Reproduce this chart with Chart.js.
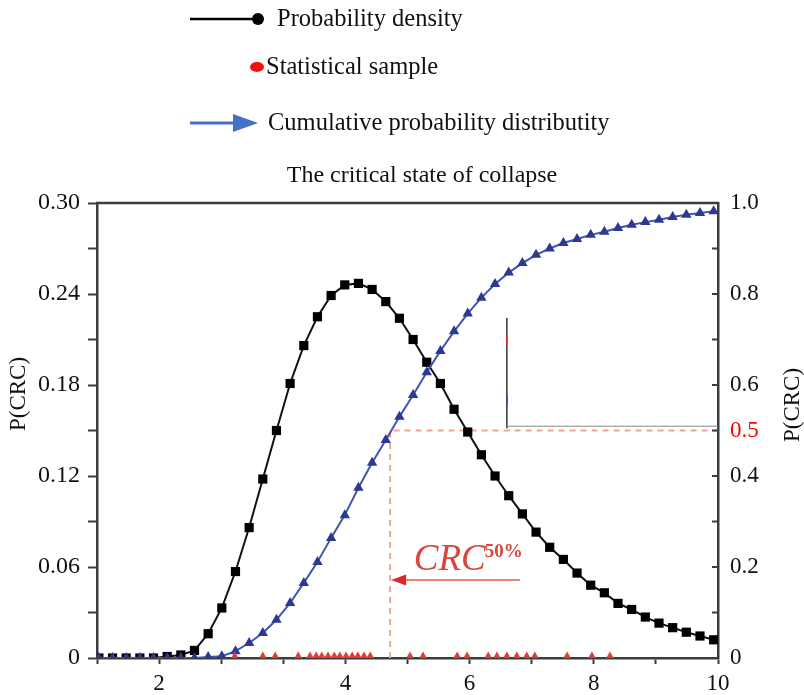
<!DOCTYPE html>
<html>
<head>
<meta charset="utf-8">
<title>The critical state of collapse</title>
<script src="https://cdn.jsdelivr.net/npm/chart.js@4.4.1/dist/chart.umd.min.js"></script>
<style>
  html, body { margin: 0; padding: 0; background: #fff; }
  #wrap { width: 804px; height: 695px; position: relative; }
</style>
</head>
<body>
<div id="wrap"><canvas id="chart"></canvas></div>
<script>
// x positions of the curve points (CRC)
const xGrid = [0.03, 0.25, 0.47, 0.69, 0.91, 1.13, 1.35, 1.57, 1.79, 2.01,
               2.23, 2.45, 2.67, 2.89, 3.11, 3.33, 3.55, 3.77, 3.99, 4.21,
               4.43, 4.65, 4.87, 5.09, 5.31, 5.53, 5.75, 5.97, 6.19, 6.41,
               6.63, 6.85, 7.07, 7.29, 7.51, 7.73, 7.95, 8.17, 8.39, 8.61,
               8.83, 9.05, 9.27, 9.49, 9.71, 9.93];

// probability density, left axis
const densityValues = [0, 0, 0, 0, 0, 0.001, 0.002, 0.005, 0.016, 0.033,
                       0.057, 0.086, 0.118, 0.150, 0.181, 0.206, 0.225, 0.239, 0.246, 0.247,
                       0.243, 0.235, 0.224, 0.210, 0.195, 0.181, 0.164, 0.149, 0.134, 0.120,
                       0.107, 0.095, 0.083, 0.073, 0.065, 0.056, 0.048, 0.043, 0.036, 0.032,
                       0.027, 0.023, 0.020, 0.017, 0.0145, 0.012];

// cumulative probability, right axis
const cumulativeValues = [0, 0, 0, 0, 0, 0, 0, 0, 0.002, 0.004,
                          0.015, 0.033, 0.055, 0.084, 0.121, 0.165, 0.211, 0.264, 0.314, 0.374,
                          0.429, 0.479, 0.530, 0.578, 0.628, 0.675, 0.718, 0.757, 0.792, 0.822,
                          0.847, 0.868, 0.886, 0.900, 0.912, 0.921, 0.930, 0.937, 0.945, 0.952,
                          0.958, 0.963, 0.969, 0.974, 0.978, 0.982];

// statistical samples along the x axis
const sampleX = [2.22, 2.67, 2.87, 3.24, 3.43, 3.53, 3.62, 3.72, 3.82, 3.91,
                 4.01, 4.11, 4.20, 4.30, 4.40, 5.04, 5.25, 5.80, 5.96, 6.30,
                 6.44, 6.60, 6.76, 6.92, 7.05, 7.57, 7.97, 8.26];

// the x labels as printed in the figure
const xLabelTicks = [1, 4, 6, 8, 10];
const xLabelText = ['2', '4', '6', '8', '10'];

const crcX = 4.72;      // CRC 50%
const crcLevel = 0.5;

const SERIF = "'Liberation Serif', 'Times New Roman', serif";
const AXIS = '#3c3c3c';

function vText(ctx, text, x, y) {
    ctx.save();
    ctx.translate(x, y);
    ctx.rotate(-Math.PI / 2);
    ctx.fillText(text, 0, 0);
    ctx.restore();
}

const decor = {
    id: 'decor',
    afterDatasetsDraw(chart) {
        const {ctx, scales: {x, y, y1}} = chart;
        ctx.save();

        // whited-out box left over in the original figure
        const bx0 = x.getPixelForValue(6.05), bx1 = x.getPixelForValue(6.6);
        const by0 = y1.getPixelForValue(0.758), by1 = y1.getPixelForValue(0.505);
        ctx.fillStyle = '#fff';
        ctx.fillRect(bx0, by0, bx1 - bx0, by1 - by0);
        ctx.strokeStyle = '#333';
        ctx.lineWidth = 1.5;
        ctx.beginPath();
        ctx.moveTo(bx1, by0 + 5);
        ctx.lineTo(bx1, by1);
        ctx.stroke();
        ctx.strokeStyle = '#e03030';
        ctx.beginPath(); ctx.moveTo(bx1, by0 + 22); ctx.lineTo(bx1, by0 + 32); ctx.stroke();
        ctx.strokeStyle = '#3040a0';
        ctx.beginPath(); ctx.moveTo(bx1, by0 + 82); ctx.lineTo(bx1, by0 + 92); ctx.stroke();
        ctx.strokeStyle = '#888';
        ctx.lineWidth = 1;
        ctx.beginPath();
        ctx.moveTo(bx1, by1 - 2);
        ctx.lineTo(x.right, by1 - 2);
        ctx.stroke();

        // CRC 50% arrow and label
        const ay = y.getPixelForValue(0.0514);
        const tip = x.getPixelForValue(crcX) + 1;
        ctx.strokeStyle = '#e65a50';
        ctx.lineWidth = 1.5;
        ctx.beginPath();
        ctx.moveTo(tip + 12, ay);
        ctx.lineTo(x.getPixelForValue(6.81), ay);
        ctx.stroke();
        ctx.fillStyle = '#e02525';
        ctx.beginPath();
        ctx.moveTo(tip, ay);
        ctx.lineTo(tip + 15, ay - 5.5);
        ctx.lineTo(tip + 15, ay + 5.5);
        ctx.closePath();
        ctx.fill();

        const tx = x.getPixelForValue(5.1);
        const ty = y.getPixelForValue(0.058);
        ctx.fillStyle = '#d8463e';
        ctx.textBaseline = 'alphabetic';
        ctx.textAlign = 'left';
        ctx.font = 'italic 37px ' + SERIF;
        ctx.fillText('CRC', tx, ty);
        const w = ctx.measureText('CRC').width;
        ctx.font = 'bold 19px ' + SERIF;
        ctx.fillText('50%', tx + w - 1, ty - 13);
        ctx.restore();
    },
    afterDraw(chart) {
        const {ctx, chartArea: a, scales: {y1}} = chart;
        ctx.save();

        // top frame line
        ctx.strokeStyle = AXIS;
        ctx.lineWidth = 2.5;
        ctx.beginPath();
        ctx.moveTo(a.left - 1, a.top);
        ctx.lineTo(a.right + 1, a.top);
        ctx.stroke();

        // right axis ticks point inwards
        ctx.lineWidth = 2;
        y1.ticks.forEach(t => {
            const py = y1.getPixelForValue(t.value);
            ctx.beginPath();
            ctx.moveTo(a.right, py);
            ctx.lineTo(a.right - 6, py);
            ctx.stroke();
        });

        // axis titles, both reading upwards
        ctx.fillStyle = '#111';
        ctx.font = '23px ' + SERIF;
        ctx.textAlign = 'center';
        ctx.textBaseline = 'middle';
        vText(ctx, 'P(CRC)', 19, 394);
        vText(ctx, 'P(CRC)', 793, 405);

        // chart title
        ctx.font = '24px ' + SERIF;
        ctx.fillText('The critical state of collapse', 422, 176);

        // legend
        const ds = chart.data.datasets;
        ctx.textAlign = 'left';
        ctx.font = '24.5px ' + SERIF;

        ctx.strokeStyle = '#000';
        ctx.lineWidth = 2.5;
        ctx.beginPath(); ctx.moveTo(190, 19); ctx.lineTo(254, 19); ctx.stroke();
        ctx.fillStyle = '#000';
        ctx.beginPath(); ctx.arc(258, 19, 6, 0, Math.PI * 2); ctx.fill();
        ctx.fillStyle = '#111';
        ctx.fillText(ds[0].label, 277, 20);

        ctx.fillStyle = '#f01010';
        ctx.beginPath(); ctx.ellipse(257, 67, 7, 5, 0, 0, Math.PI * 2); ctx.fill();
        ctx.fillStyle = '#111';
        ctx.fillText(ds[2].label, 266, 68);

        ctx.strokeStyle = '#4472c4';
        ctx.lineWidth = 3;
        ctx.beginPath(); ctx.moveTo(190, 123); ctx.lineTo(236, 123); ctx.stroke();
        ctx.fillStyle = '#4472c4';
        ctx.beginPath(); ctx.moveTo(233, 114); ctx.lineTo(258, 123); ctx.lineTo(233, 132); ctx.closePath(); ctx.fill();
        ctx.fillStyle = '#111';
        ctx.fillText(ds[1].label, 268, 124);

        ctx.restore();
    }
};

new Chart(document.getElementById('chart'), {
    type: 'line',
    data: {
        datasets: [{
            label: 'Probability density',
            data: xGrid.map((x, i) => ({x: x, y: densityValues[i]})),
            yAxisID: 'y',
            borderColor: '#111',
            borderWidth: 2,
            pointStyle: 'rect',
            pointRadius: 6.5,
            pointBackgroundColor: '#000',
            pointBorderWidth: 0,
            tension: 0,
            order: 2
        }, {
            label: 'Cumulative probability distributity',
            data: xGrid.map((x, i) => ({x: x, y: cumulativeValues[i]})),
            yAxisID: 'y1',
            borderColor: '#4254b4',
            borderWidth: 2,
            pointStyle: 'triangle',
            pointRadius: 6,
            pointBackgroundColor: '#2b3990',
            pointBorderWidth: 0,
            tension: 0,
            order: 1
        }, {
            label: 'Statistical sample',
            data: sampleX.map(x => ({x: x, y: 0})),
            yAxisID: 'y',
            showLine: false,
            pointStyle: 'triangle',
            pointRadius: 6.5,
            pointBackgroundColor: '#e83a32',
            pointBorderWidth: 0,
            order: 0
        }, {
            label: 'CRC50%',
            data: [{x: crcX, y: 0}, {x: crcX, y: crcLevel}, {x: 10, y: crcLevel}],
            yAxisID: 'y1',
            borderColor: '#f2a58f',
            borderWidth: 2,
            borderDash: [6, 5],
            pointRadius: 0,
            tension: 0,
            order: 5
        }]
    },
    options: {
        responsive: true,
        maintainAspectRatio: false,
        animation: false,
        layout: { padding: { top: 203, left: 0, right: 0, bottom: 0 } },
        plugins: {
            legend: { display: false },
            tooltip: { enabled: false }
        },
        scales: {
            x: {
                type: 'linear',
                min: 0,
                max: 10,
                afterFit: s => { s.height = 37; },
                border: { color: AXIS, width: 2.5 },
                grid: { drawOnChartArea: false, color: AXIS, tickLength: 6, tickWidth: 2 },
                ticks: {
                    stepSize: 1,
                    autoSkip: false,
                    maxRotation: 0,
                    padding: 6,
                    color: '#111',
                    font: { family: SERIF, size: 23 },
                    callback: v => {
                        const k = xLabelTicks.indexOf(v);
                        return k >= 0 ? xLabelText[k] : '';
                    }
                }
            },
            y: {
                position: 'left',
                min: 0,
                max: 0.30,
                afterFit: s => { s.width = 97; },
                border: { color: AXIS, width: 2.5 },
                grid: { drawOnChartArea: false, color: AXIS, tickLength: 9, tickWidth: 2 },
                ticks: {
                    stepSize: 0.03,
                    padding: 8,
                    color: '#111',
                    font: { family: SERIF, size: 24 },
                    callback: v => {
                        const c = Math.round(v * 100);
                        if (c % 6 !== 0) return '';
                        return c === 0 ? '0' : v.toFixed(2);
                    }
                }
            },
            y1: {
                position: 'right',
                min: 0,
                max: 1,
                afterFit: s => { s.width = 86; },
                border: { color: AXIS, width: 2.5 },
                grid: { drawOnChartArea: false, drawTicks: false },
                ticks: {
                    stepSize: 0.1,
                    padding: 12,
                    font: { family: SERIF, size: 23 },
                    color: c => Math.round(c.tick.value * 10) === 5 ? '#ff0000' : '#111',
                    callback: v => {
                        const d = Math.round(v * 10);
                        if (d === 0) return '0';
                        if (d === 10) return '1.0';
                        if (d % 2 === 1 && d !== 5) return '';
                        return v.toFixed(1);
                    }
                }
            }
        }
    },
    plugins: [decor]
});
</script>
</body>
</html>
